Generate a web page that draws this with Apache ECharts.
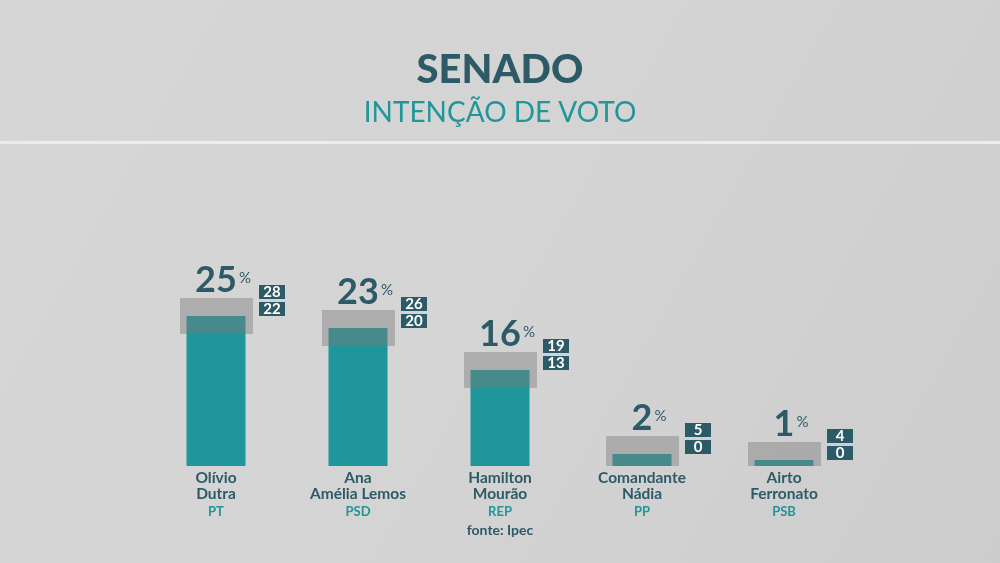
<!DOCTYPE html>
<html style="height: 100%">
<head>
<meta charset="utf-8">
<script src="https://cdn.jsdelivr.net/npm/echarts@6/dist/echarts.min.js"></script>
</head>
<body style="height: 100%; margin: 0; background: #d3d3d3;">
<div id="container" style="width: 1000px; height: 563px;"></div>
<script type="text/javascript">
// dados da pesquisa
var nomes = ['Olívio\nDutra', 'Ana\nAmélia Lemos', 'Hamilton\nMourão', 'Comandante\nNádia', 'Airto\nFerronato'];
var partidos = ['PT', 'PSD', 'REP', 'PP', 'PSB'];
var votos = [25, 23, 16, 2, 1];
var minimo = [22, 20, 13, 0, 0];
var maximo = [28, 26, 19, 5, 4];

var escuro = '#2d5a67';
var verde = '#1f9699';
var fonte = 'Lato, "Open Sans", sans-serif';

var ctx = document.createElement('canvas').getContext('2d');
function largura(txt, font) {
    ctx.font = font;
    return ctx.measureText(txt).width;
}

var faixa = [];
for (var i = 0; i < votos.length; i++) {
    faixa.push([i, minimo[i], maximo[i], votos[i]]);
}

var chart = echarts.init(document.getElementById('container'));

function desenhaFaixa(params, api) {
    var idx = api.value(0);
    var topo = api.coord([idx, api.value(2)]);
    var base = api.coord([idx, api.value(1)]);
    var cx = topo[0], ty = topo[1];
    var numFont = 'bold 36px ' + fonte;
    var num = String(api.value(3));
    var w = largura(num, numFont);
    return {
        type: 'group',
        children: [
            { type: 'rect', shape: { x: cx - 36, y: ty, width: 73, height: base[1] - ty },
              style: { fill: 'rgba(122,122,122,0.43)' } },
            { type: 'text', style: { text: num, x: cx, y: ty - 18, align: 'center', verticalAlign: 'middle',
              font: numFont, fill: escuro } },
            { type: 'text', style: { text: '%', x: cx + w / 2 + 2, y: ty - 20, align: 'left', verticalAlign: 'middle',
              font: '15px ' + fonte, fill: escuro } },
            { type: 'rect', shape: { x: cx + 43, y: ty - 13, width: 26, height: 14 }, style: { fill: escuro } },
            { type: 'text', style: { text: String(api.value(2)), x: cx + 56, y: ty - 6, align: 'center', verticalAlign: 'middle',
              font: 'bold 15px ' + fonte, fill: '#ffffff' } },
            { type: 'rect', shape: { x: cx + 43, y: ty + 4, width: 26, height: 14 }, style: { fill: escuro } },
            { type: 'text', style: { text: String(api.value(1)), x: cx + 56, y: ty + 11, align: 'center', verticalAlign: 'middle',
              font: 'bold 15px ' + fonte, fill: '#ffffff' } }
        ]
    };
}

var option = {
    backgroundColor: '#d3d3d3',
    animation: false,
    graphic: [
        { type: 'rect', z: -10, shape: { x: 0, y: 0, width: 1000, height: 563 },
          style: { fill: new echarts.graphic.LinearGradient(0, 0, 1, 1, [
              { offset: 0, color: '#d6d6d6' }, { offset: 0.5, color: '#d4d4d4' }, { offset: 1, color: '#cdcdcd' }]) } },
        { type: 'rect', z: -5, shape: { x: 0, y: 141, width: 1000, height: 3 },
          style: { fill: '#ececec' } },
        { type: 'text', left: 'center', top: 50, style: { text: 'SENADO', font: '900 40px ' + fonte, fill: escuro } },
        { type: 'text', left: 'center', top: 99, style: { text: 'INTENÇÃO DE VOTO', font: '28px ' + fonte, fill: verde } },
        { type: 'text', left: 'center', top: 523, style: { text: 'fonte: Ipec', font: 'bold 14px ' + fonte, fill: escuro } }
    ],
    grid: { left: 145, right: 145, top: 166, bottom: 97 },
    xAxis: {
        type: 'category',
        data: nomes,
        axisLine: { show: false },
        axisTick: { show: false },
        axisLabel: {
            margin: 4,
            interval: 0,
            formatter: function (v, i) {
                return v.split('\n').map(function (l) { return '{n|' + l + '}'; }).join('\n') + '\n{p|' + partidos[i] + '}';
            },
            rich: {
                n: { fontFamily: fonte, fontWeight: 'bold', fontSize: 15.5, lineHeight: 16, color: escuro },
                p: { fontFamily: fonte, fontWeight: 'bold', fontSize: 13, lineHeight: 20, color: verde }
            }
        }
    },
    yAxis: { type: 'value', min: 0, max: 50, show: false, splitLine: { show: false } },
    series: [
        { type: 'bar', data: votos, barWidth: 59, itemStyle: { color: verde }, z: 2 },
        { type: 'custom', data: faixa, renderItem: desenhaFaixa, z: 5 }
    ]
};
chart.setOption(option);
</script>
</body>
</html>
